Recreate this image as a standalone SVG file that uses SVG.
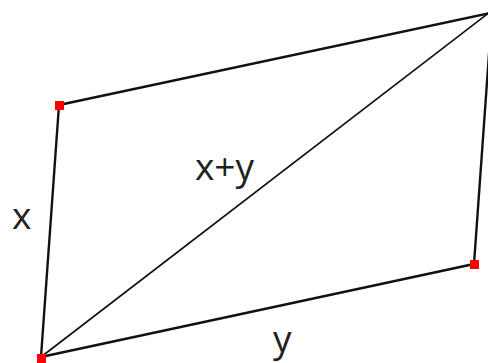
<svg xmlns="http://www.w3.org/2000/svg" width="488" height="363" viewBox="0 0 488 363">
<style>
.side{stroke:#111;stroke-width:2.4;fill:none;stroke-linecap:round}
.diag{stroke:#111;stroke-width:1.7;fill:none}
.dot{fill:#ff0000}
.lbl{font-family:"Open Sans","Liberation Sans",sans-serif;font-size:37px;fill:#222}
</style>
<rect width="488" height="363" fill="#fff"/>
<g id="connectors">
<line class="side" x1="41" y1="357" x2="59" y2="105"/>
<line class="side" x1="59" y1="105" x2="490" y2="13"/>
<line class="side" x1="474" y1="264" x2="492" y2="12"/>
<line class="side" x1="41" y1="357" x2="474" y2="264"/>
<line class="diag" x1="41" y1="357" x2="490" y2="12"/>
</g>
<g id="node-bl"><rect class="dot" x="37" y="354" width="9" height="9"/></g>
<g id="node-tl"><rect class="dot" x="55" y="101" width="9" height="9"/></g>
<g id="node-br"><rect class="dot" x="470" y="260" width="9" height="9"/></g>
<g id="labels">
<text class="lbl" x="12" y="229">x</text>
<text class="lbl" x="195" y="180">x+y</text>
<text class="lbl" x="273" y="352">y</text>
</g>
</svg>
